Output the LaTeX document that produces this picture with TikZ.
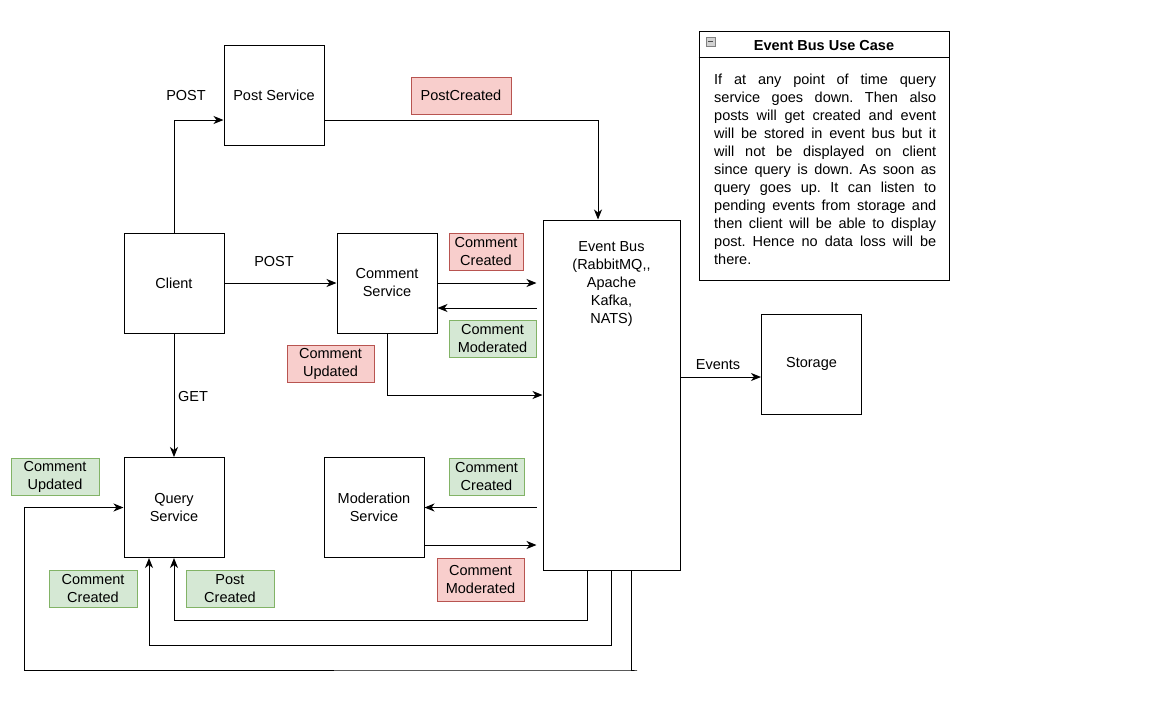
\documentclass[tikz,border=0pt]{standalone}
\usepackage{fontspec}
\setmainfont{Liberation Sans}
\usetikzlibrary{arrows, arrows.meta, positioning}

\definecolor{redfill}{HTML}{F8CECC}
\definecolor{reddraw}{HTML}{B85450}
\definecolor{greenfill}{HTML}{D5E8D4}
\definecolor{greendraw}{HTML}{82B366}

\tikzset{
    svc/.style={draw, line width=1pt, minimum width=100pt, minimum height=100pt, align=center},
    redtag/.style={draw=reddraw, fill=redfill, line width=1pt, align=center, minimum height=37pt, inner ysep=1pt},
    greentag/.style={draw=greendraw, fill=greenfill, line width=1pt, align=center, minimum height=37pt, inner ysep=1pt},
    arr/.style={-{Stealth[length=10pt, width=8pt, inset=3pt]}, line width=1pt}
}

\begin{document}
\frenchspacing
\begin{tikzpicture}[x=1pt, y=-1pt, font=\fontsize{14.5}{18}\selectfont]
    \useasboundingbox (0,0) rectangle (1152,710);

    % draw service boxes
    \node[svc] (client) at (174,283) {Client};
    \node[svc] (postsvc) at (274,95) {Post Service};
    \node[svc] (commentsvc) at (387,283) {Comment\\Service};
    \node[svc] (querysvc) at (174,507.5) {Query\\Service};
    \node[svc] (modsvc) at (374,507.5) {Moderation\\Service};
    \node[svc] (storage) at (811.5,364) {Storage};

    % draw event bus
    \node[svc, minimum width=137pt, minimum height=350pt] (bus) at (611.5,395) {};
    \node[align=center, below=18pt of bus.north] (bustext)
        {Event Bus\\(RabbitMQ,{},\\Apache\\Kafka,\\NATS)};

    % draw event tags
    \node[redtag, minimum width=100pt] (postcreated) at (461,95.5) {PostCreated};
    \node[redtag, minimum width=74pt] (cmtcreated) at (486,251.5) {Comment\\Created};
    \node[greentag, minimum width=87pt] (cmtmoderated) at (492.5,338.5) {Comment\\Moderated};
    \node[redtag, minimum width=87pt] (cmtupdated) at (330.5,363.5) {Comment\\Updated};
    \node[greentag, minimum width=75pt] (modcreated) at (486.5,476.5) {Comment\\Created};
    \node[redtag, minimum width=87pt, minimum height=43pt] (modmoderated) at (480.5,579.5) {Comment\\Moderated};
    \node[greentag, minimum width=88pt] (qupdated) at (55,476.5) {Comment\\Updated};
    \node[greentag, minimum width=88pt] (qcreated) at (93,588.5) {Comment\\Created};
    \node[greentag, minimum width=88pt] (qpostcreated) at (230,588.5) {Post\\Created};

    % draw request labels
    \node (postlbl) at (186,96) {POST};
    \node (cmtlbl) at (274,262) {POST};
    \node (getlbl) at (193,397) {GET};
    \node (evtlbl) at (718,365) {Events};

    % draw requests from client
    \draw[arr] (client.north) |- ([yshift=-25pt]postsvc.west);
    \draw[arr] (client.east) -- (commentsvc.west);
    \draw[arr] (client.south) -- (querysvc.north);

    % draw events into the bus
    \draw[arr] ([yshift=-25pt]postsvc.east) -| ([xshift=-13.5pt]bus.north);
    \draw[arr, shorten >=6pt] (commentsvc.east) -- (commentsvc.east -| bus.west);
    \draw[arr] (commentsvc.south) |- (bus.west);
    \coordinate (modout) at ([yshift=-37.5pt]modsvc.east);
    \draw[arr, shorten >=6pt] (modout) -- (modout -| bus.west);

    % draw events out of the bus
    \coordinate (cmtback) at ([yshift=-25pt]commentsvc.east);
    \draw[arr, shorten <=6pt] (cmtback -| bus.west) -- (cmtback);
    \draw[arr, shorten <=6pt] (modsvc.east -| bus.west) -- (modsvc.east);
    \coordinate (evt) at ([yshift=-13pt]storage.west);
    \draw[arr] (evt -| bus.east) -- (evt);

    % draw events back to query service
    \draw[arr] ([xshift=-24.5pt]bus.south) -- ++(0,50) -| (querysvc.south);
    \draw[arr] (bus.south) -- ++(0,75) -| ([xshift=-25pt]querysvc.south);
    \coordinate (qend) at (637,670);
    \coordinate (qloop) at (24,670);
    \draw[arr] ([xshift=20pt]bus.south) |- (qend) -- (qloop) |- (querysvc.west);

    % draw note
    \node[draw, line width=1pt, minimum width=250pt, minimum height=249pt] (note) at (824,155.5) {};
    \draw[line width=1pt] ([yshift=-27pt]note.north west) -- ([yshift=-27pt]note.north east);
    \node[font=\fontsize{14.5}{18}\selectfont\bfseries] (notetitle) at (824,46) {Event Bus Use Case};
    \node[draw=gray, fill=gray!35, minimum size=9pt, inner sep=0pt] (notebtn) at (710.5,41.5) {};
    \draw[line width=1pt, black!70] ([xshift=2pt]notebtn.west) -- ([xshift=-2pt]notebtn.east);
    \node[text width=222pt, align=justify, anchor=north west, inner sep=0pt] (notetext) at (714,74)
        {If at any point of time query\linebreak
         service goes down. Then also\linebreak
         posts will get created and event\linebreak
         will be stored in event bus but it\linebreak
         will not be displayed on client\linebreak
         since query is down. As soon as\linebreak
         query goes up. It can listen to\linebreak
         pending events from storage and\linebreak
         then client will be able to display\linebreak
         post. Hence no data loss will be\linebreak
         there.};
\end{tikzpicture}
\end{document}
